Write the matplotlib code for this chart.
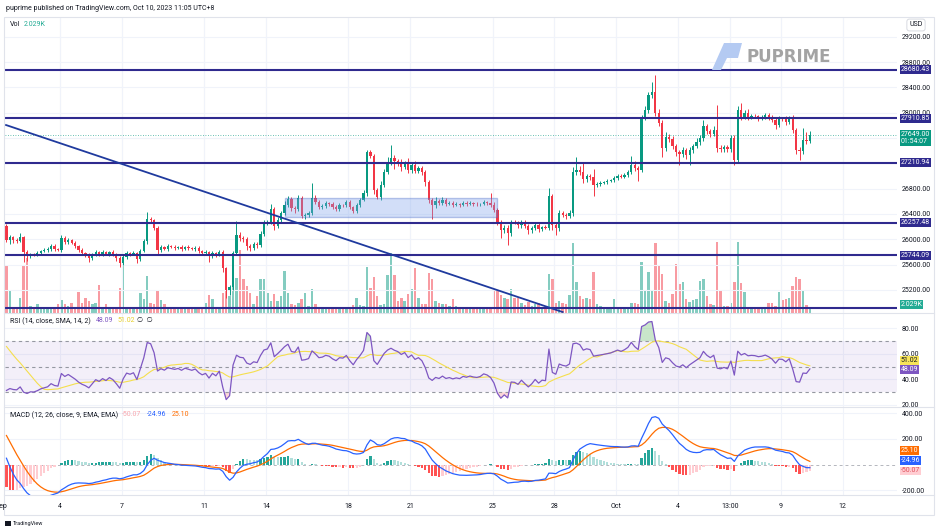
import numpy as np
import pandas as pd
import matplotlib
matplotlib.use("Agg")
import matplotlib.pyplot as plt
import matplotlib.transforms as mtransforms
from matplotlib.patches import Rectangle, Polygon
from matplotlib.lines import Line2D
from matplotlib.ticker import FixedLocator, FuncFormatter

plt.rcParams['font.family'] = ['Roboto', 'DejaVu Sans']

# BTCUSD 4h candles, first one Sep 1 2023 08:00 (UTC+8), last one Oct 10 08:00
closes = [
    25988, 26035, 25988, 25972, 26035, 25798, 25735, 25767, 25760, 25783,
    25814, 25830, 25846, 25893, 25846, 25830, 26020, 25956, 25988, 25941,
    25893, 25830, 25783, 25751, 25704, 25751, 25798, 25767, 25798, 25767,
    25798, 25767, 25704, 25625, 25719, 25783, 25767, 25783, 25688, 25814,
    25972, 26320, 26304, 26178, 25830, 25877, 25846, 25893, 25877, 25862,
    25877, 25846, 25877, 25862, 25846, 25862, 25814, 25783, 25798, 25735,
    25783, 25751, 25798, 25546, 25198, 25245, 25783, 26067, 26020, 26010,
    25893, 25862, 25925, 25909, 26083, 26241, 26272, 26478, 26209, 26304,
    26415, 26541, 26636, 26494, 26480, 26652, 26367, 26383, 26415, 26652,
    26588, 26509, 26525, 26573, 26557, 26509, 26478, 26541, 26535, 26588,
    26509, 26446, 26541, 26620, 26731, 27378, 27315, 26778, 26667, 26857,
    27062, 27205, 27284, 27236, 27205, 27141, 27205, 27094, 27173, 27078,
    27126, 27062, 26904, 26620, 26541, 26604, 26573, 26620, 26557, 26573,
    26541, 26557, 26541, 26573, 26557, 26573, 26557, 26550, 26560, 26588,
    26573, 26541, 26462, 26272, 26146, 26178, 26099, 26272, 26265, 26225,
    26272, 26209, 26146, 26178, 26225, 26162, 26193, 26185, 26683, 26225,
    26178, 26415, 26383, 26367, 26415, 27062, 27094, 27062, 26952, 26999,
    26983, 26857, 26873, 26889, 26904, 26920, 26936, 26968, 26999, 26983,
    27015, 27062, 27173, 27126, 27094, 27931, 28042, 28279, 28326, 27995,
    27837, 27442, 27615, 27584, 27473, 27378, 27347, 27410, 27331, 27410,
    27473, 27536, 27600, 27789, 27710, 27663, 27726, 27442, 27426, 27457,
    27426, 27600, 27252, 28042, 27931, 27995, 27931, 27947, 27940, 27916,
    27931, 27963, 27931, 27884, 27805, 27900, 27895, 27852, 27916, 27726,
    27410, 27394, 27568, 27560, 27649,
]
# wick length above the body top / below the body bottom (USD)
wick_up = [
    30, 40, 20, 25, 60, 20, 30, 20, 15, 25,
    20, 25, 30, 25, 40, 20, 50, 30, 25, 20,
    30, 20, 25, 20, 30, 25, 30, 20, 25, 20,
    20, 25, 20, 30, 25, 30, 20, 25, 20, 30,
    40, 110, 30, 20, 25, 30, 20, 25, 20, 25,
    20, 25, 20, 25, 20, 30, 25, 20, 30, 20,
    25, 20, 30, 25, 20, 40, 30, 220, 40, 30,
    20, 30, 25, 30, 40, 60, 30, 80, 30, 40,
    30, 60, 40, 30, 25, 40, 30, 25, 30, 237,
    40, 30, 25, 30, 20, 30, 25, 30, 20, 40,
    25, 20, 30, 25, 40, 30, 40, 30, 30, 60,
    50, 90, 205, 50, 40, 60, 30, 80, 40, 60,
    30, 25, 30, 40, 30, 60, 30, 40, 25, 30,
    25, 30, 20, 30, 25, 30, 20, 25, 20, 25,
    20, 158, 40, 30, 25, 50, 40, 30, 25, 30,
    30, 25, 30, 25, 30, 25, 20, 30, 126, 40,
    30, 40, 30, 25, 40, 80, 205, 60, 150, 40,
    30, 130, 30, 25, 20, 25, 20, 30, 25, 30,
    25, 40, 150, 60, 30, 40, 60, 40, 160, 270,
    60, 40, 80, 50, 40, 30, 40, 40, 30, 40,
    30, 60, 40, 95, 40, 30, 60, 395, 40, 40,
    30, 50, 40, 60, 104, 50, 60, 40, 30, 30,
    40, 30, 25, 30, 40, 50, 30, 60, 30, 40,
    30, 40, 190, 120, 60,
]
wick_dn = [
    30, 60, 40, 30, 20, 160, 80, 30, 25, 20,
    25, 20, 25, 30, 25, 20, 30, 30, 25, 20,
    30, 25, 30, 25, 60, 25, 20, 30, 25, 20,
    30, 25, 40, 65, 30, 25, 30, 20, 60, 30,
    20, 40, 30, 30, 60, 25, 20, 25, 20, 25,
    20, 25, 20, 25, 20, 25, 30, 30, 25, 95,
    25, 30, 20, 60, 126, 80, 40, 30, 40, 50,
    60, 40, 30, 40, 30, 30, 20, 30, 60, 30,
    30, 25, 30, 40, 60, 30, 30, 40, 30, 30,
    25, 30, 25, 30, 25, 30, 30, 25, 20, 25,
    30, 30, 25, 30, 20, 40, 30, 60, 30, 40,
    25, 30, 30, 120, 40, 60, 30, 40, 50, 30,
    30, 40, 60, 40, 215, 40, 30, 25, 30, 20,
    25, 20, 25, 20, 25, 20, 25, 20, 25, 20,
    25, 30, 30, 40, 126, 50, 190, 40, 30, 50,
    40, 30, 60, 40, 30, 50, 30, 30, 40, 80,
    110, 40, 30, 40, 30, 40, 50, 40, 60, 40,
    40, 175, 30, 25, 20, 25, 20, 25, 25, 20,
    20, 25, 30, 40, 175, 30, 40, 40, 40, 50,
    40, 140, 50, 40, 50, 60, 175, 40, 60, 160,
    40, 30, 40, 40, 50, 40, 30, 60, 40, 40,
    50, 40, 80, 40, 40, 30, 40, 30, 30, 40,
    30, 30, 40, 30, 60, 30, 30, 40, 30, 40,
    60, 140, 40, 60, 40,
]
volume_k = [
    24.0, 11.5, 3.0, 2.5, 7.5, 23.5, 27.5, 3.5, 3.0, 4.5,
    2.5, 2.5, 2.5, 2.5, 3.0, 4.5, 6.5, 4.5, 3.5, 5.0,
    3.0, 10.5, 5.0, 7.5, 6.0, 4.5, 5.0, 14.0, 3.0, 4.5,
    2.5, 2.5, 2.5, 12.5, 26.0, 3.0, 2.5, 2.5, 2.5, 10.0,
    7.0, 18.5, 5.0, 4.5, 11.0, 6.5, 4.5, 3.0, 2.5, 2.5,
    2.0, 2.5, 2.0, 2.5, 3.0, 2.5, 3.0, 2.5, 5.0, 9.0,
    7.0, 2.5, 2.5, 10.0, 16.5, 8.5, 14.5, 17.5, 31.5, 17.0,
    13.5, 10.0, 4.5, 8.5, 17.0, 17.0, 10.0, 6.0, 9.5, 6.0,
    8.5, 21.0, 10.0, 4.5, 4.0, 5.0, 7.0, 10.0, 3.5, 12.0,
    4.5, 2.5, 2.5, 2.5, 2.5, 2.5, 2.0, 2.0, 2.0, 2.0,
    2.5, 4.0, 7.5, 4.0, 3.5, 23.0, 12.5, 18.0, 8.5, 4.0,
    4.5, 19.0, 30.0, 19.0, 6.0, 7.5, 6.0, 9.5, 12.0, 22.5,
    7.5, 4.5, 4.5, 20.0, 17.0, 6.0, 5.0, 4.5, 4.5, 3.5,
    7.0, 3.5, 2.5, 2.0, 2.0, 2.5, 2.0, 2.0, 2.0, 2.5,
    2.0, 2.5, 11.0, 11.0, 9.0, 7.5, 7.0, 12.0, 7.5, 7.5,
    5.0, 4.0, 5.5, 3.5, 4.5, 5.0, 2.5, 2.5, 19.5, 17.0,
    5.0, 6.0, 5.0, 4.5, 9.0, 35.0, 15.5, 8.5, 7.0, 7.5,
    7.0, 20.5, 4.5, 3.5, 2.0, 2.0, 2.5, 7.0, 3.0, 2.5,
    2.5, 2.5, 5.0, 5.0, 4.5, 25.5, 11.5, 20.5, 11.0, 35.0,
    24.0, 19.5, 6.0, 5.0, 9.5, 24.5, 14.5, 15.5, 7.0, 5.5,
    6.5, 7.0, 16.0, 17.0, 8.5, 4.5, 4.0, 35.5, 11.0, 3.5,
    3.5, 5.0, 15.5, 35.5, 15.0, 10.5, 2.0, 2.5, 2.0, 2.5,
    2.0, 2.0, 5.0, 5.0, 3.5, 10.5, 6.5, 7.0, 7.5, 13.5,
    18.0, 17.0, 11.0, 4.0, 2.029,
]
# 4h closes before the visible window (Aug 24 08:00 .. Sep 1 04:00),
# only used to warm up RSI / MACD so they enter at the levels seen at the left edge
offscreen_closes = [
    26350, 26250, 26150, 26050, 26100, 26080,
    26050, 26000, 26070, 26060, 26040, 26020,
    26010, 26000, 26020, 26030, 26010, 26020,
    26050, 26080, 26060, 26040, 26000, 26020,
    25980, 26050, 26100, 26120, 26080, 26100,
    26050, 26100, 26150, 27600, 27700, 27500,
    27450, 27400, 27350, 27400, 27450, 27400,
    27450, 27500, 27400, 27250, 26400, 26209,
]

levels = [28680.43, 27910.85, 27210.94, 26257.48, 25744.09]
bottom_level = 24913
last_price = 27649.00
range_box = (13.92, 24.21, 26351, 26652)      # day from, day to, low, high
trend_pts = ((0.38, 27805), (27.4, 24850))     # (day, price) anchors

price_ticks = [25200, 25600, 26000, 26400, 26800, 27200, 27600, 28000, 28400, 28800, 29200]
price_hidden = [27200, 27600]                  # covered by the level / last-price tags
day_ticks = [3, 6, 10, 13, 17, 20, 24, 27, 30, 33, 35.54, 38, 41]
day_labels = ['4', '7', '11', '14', '18', '21', '25', '28', 'Oct', '4', '13:00', '9', '12']

UP, DN = '#089981', '#f23645'
LINE = '#2f2a8e'
GRID = '#f0f3fa'
TXT = '#131722'

W, H = 941, 528
def fx(x): return x / W
def fy(y): return 1 - y / H

n = len(closes)
t = 0.4 + np.arange(n) / 6
c = np.array(closes, float)
o = np.r_[offscreen_closes[-1], c[:-1]]
top = np.maximum(o, c)
bot = np.minimum(o, c)
hi = top + np.array(wick_up)
lo = bot - np.array(wick_dn)
up = c >= o
cols = np.where(up, UP, DN)

# indicators, computed the way the chart does
s = pd.Series(np.r_[offscreen_closes, closes], dtype=float)
d = s.diff().fillna(0)
ag = d.clip(lower=0).ewm(alpha=1 / 14, adjust=False).mean()
al = (-d.clip(upper=0)).ewm(alpha=1 / 14, adjust=False).mean()
rsi_all = 100 - 100 / (1 + ag / al)
rsi_ma_all = rsi_all.rolling(14).mean()
macd_all = s.ewm(span=12, adjust=False).mean() - s.ewm(span=26, adjust=False).mean()
sig_all = macd_all.ewm(span=9, adjust=False).mean()
hist_all = macd_all - sig_all
k = len(offscreen_closes)
rsi = rsi_all.values[k:]
rsi_ma = rsi_ma_all.values[k:]
macd = macd_all.values[k:]
sig = sig_all.values[k:]
hist = hist_all.values[k:]
hist_prev = hist_all.values[k - 1:-1]
hcols = np.where(hist >= 0, np.where(hist > hist_prev, '#26a69a', '#b2dfdb'),
                 np.where(hist > hist_prev, '#ffcdd2', '#ff5252'))

fig = plt.figure(figsize=(W / 100, H / 100), dpi=100)
L, R = 5, 897
ax_v = fig.add_axes([fx(L), fy(313), (R - L) / W, (313 - 18) / H])
ax_p = fig.add_axes([fx(L), fy(313), (R - L) / W, (313 - 18) / H], sharex=ax_v)
ax_r = fig.add_axes([fx(L), fy(407), (R - L) / W, (407 - 313) / H], sharex=ax_v)
ax_m = fig.add_axes([fx(L), fy(495), (R - L) / W, (495 - 407) / H], sharex=ax_v)
ax_p.patch.set_visible(False)

xlim = (0.33, 43.63)
for ax in (ax_v, ax_p, ax_r, ax_m):
    ax.set_xlim(*xlim)
    for sp in ax.spines.values():
        sp.set_visible(False)
    for xt in day_ticks:
        ax.axvline(xt, color=GRID, lw=0.8, zorder=0)
    ax.tick_params(axis='x', length=0, labelbottom=False)
    ax.yaxis.tick_right()
    ax.tick_params(axis='y', length=0, pad=3.6, labelsize=5, labelcolor=TXT)
    ax.yaxis.set_major_formatter(FuncFormatter(lambda v, p: f'{v:.2f}'))

# volume
ax_v.set_ylim(0, 147.5)
ax_v.bar(t, volume_k, width=0.12, color=np.where(up, '#84ccc0', '#f89ba2'), zorder=1)
ax_v.set_yticks([])

# price
ax_p.set_ylim(24835, 29496)
ax_p.yaxis.set_major_locator(FixedLocator([p for p in price_ticks if p not in price_hidden]))
for pt in price_ticks:
    ax_p.axhline(pt, color=GRID, lw=0.8, zorder=0)
ax_p.vlines(t, lo, hi, color=cols, lw=0.7, zorder=3)
ax_p.bar(t, np.maximum(top - bot, 8), bottom=bot, width=0.11, color=cols, zorder=3)
ax_p.axhline(last_price, color=UP, lw=0.6, ls=(0, (1, 2)), alpha=0.8, zorder=2)
for lv in levels + [bottom_level]:
    ax_p.axhline(lv, color=LINE, lw=1.5, zorder=5)
ax_p.add_patch(Rectangle((range_box[0], range_box[2]), range_box[1] - range_box[0],
                         range_box[3] - range_box[2], fc='#7fa3ec', alpha=0.35,
                         ec='#3f63c4', lw=1.0, zorder=5))
(x0, y0), (x1, y1) = trend_pts
ax_p.plot([x0, x1], [y0, y1], color='#1f3a9e', lw=1.3, zorder=5)

def side_label(ax, yv, text, fc, tc='white', fs=5):
    tr = mtransforms.blended_transform_factory(ax.transAxes, ax.transData)
    ax.text(1.0 + 3.5 / (R - L), yv, text, transform=tr, ha='left', va='center',
            fontsize=fs, color=tc, clip_on=False, zorder=10, linespacing=1.05,
            bbox=dict(boxstyle='square,pad=0.14', fc=fc, ec='none'))

for lv in levels:
    side_label(ax_p, lv, f'{lv:.2f}', LINE)
side_label(ax_p, last_price - 50, '27649.00\n01:54:07', UP)
side_label(ax_p, bottom_level + 60, '2.029K', '#22ab94')

# RSI
ax_r.set_ylim(18.4, 92.1)
ax_r.yaxis.set_major_locator(FixedLocator([20, 40, 60, 80]))
for v in (20, 40, 60, 80):
    ax_r.axhline(v, color=GRID, lw=0.8, zorder=0)
ax_r.axhspan(30, 70, color='#7e57c2', alpha=0.09, lw=0, zorder=1)
for v in (70, 50, 30):
    ax_r.axhline(v, color='#9598a1', lw=0.8, ls=(0, (3, 3)), zorder=2)
ax_r.fill_between(t, rsi, 70, where=rsi > 70, interpolate=True, color='#4caf50', alpha=0.3, lw=0)
ax_r.fill_between(t, rsi, 30, where=rsi < 30, interpolate=True, color='#f23645', alpha=0.2, lw=0)
ax_r.plot(t, rsi_ma, color='#f5df4d', lw=0.8, zorder=3)
ax_r.plot(t, rsi, color='#7e57c2', lw=0.9, zorder=4)
side_label(ax_r, 55.0, '51.02', '#f7e45a', tc=TXT)
side_label(ax_r, 47.6, '48.09', '#7e57c2')

# MACD
ax_m.set_ylim(-237, 448)
ax_m.yaxis.set_major_locator(FixedLocator([-200, 200, 400]))
for v in (-200, 200, 400):
    ax_m.axhline(v, color=GRID, lw=0.8, zorder=0)
ax_m.axhline(0, color='#9598a1', lw=0.7, ls=(0, (3, 3)), alpha=0.7, zorder=1)
ax_m.bar(t, hist, width=0.11, color=hcols, zorder=2)
ax_m.plot(t, sig, color='#ff6d00', lw=0.9, zorder=3)
ax_m.plot(t, macd, color='#2962ff', lw=0.9, zorder=4)
side_label(ax_m, 113, '25.10', '#ff6d00')
side_label(ax_m, 32, '-24.96', '#2962ff')
side_label(ax_m, -50, '-50.07', '#ffcdd2', tc='#e0505c')

ax_m.set_xticks(day_ticks)
ax_m.set_xticklabels(day_labels)
ax_m.tick_params(axis='x', labelbottom=True, labelsize=5, labelcolor=TXT, pad=6)
fig.text(fx(1.5), fy(507), 'Sep', fontsize=5, color=TXT, ha='center', va='center')

# frame and pane separators
fig.add_artist(Rectangle((fx(4), fy(515)), (934 - 4) / W, (515 - 17) / H, fill=False,
                         ec='#e0e3eb', lw=0.8, transform=fig.transFigure))
for yy in (313, 407, 495):
    fig.add_artist(Line2D([fx(4), fx(934)], [fy(yy), fy(yy)], color='#e0e3eb', lw=0.8))

# header / legends
fig.text(fx(6), fy(8), 'puprime published on TradingView.com, Oct 10, 2023 11:05 UTC+8',
         fontsize=5, color=TXT, va='center')
fig.text(fx(10), fy(25), 'Vol', fontsize=5, color=TXT, va='center')
fig.text(fx(24), fy(25), '2.029K', fontsize=5, color='#22ab94', va='center')
fig.text(fx(10), fy(321), 'RSI (14, close, SMA, 14, 2)', fontsize=5, color=TXT, va='center')
fig.text(fx(96), fy(321), '48.09', fontsize=5, color='#7e57c2', va='center')
fig.text(fx(117), fy(321), '51.02', fontsize=5, color='#e6cf2a', va='center')
fig.text(fx(137), fy(321), '\u2205  \u2205', fontsize=5, color=TXT, va='center')
fig.text(fx(10), fy(415), 'MACD (12, 26, close, 9, EMA, EMA)', fontsize=5, color=TXT, va='center')
fig.text(fx(122), fy(415), '-50.07', fontsize=5, color='#f7a7ae', va='center')
fig.text(fx(147), fy(415), '-24.96', fontsize=5, color='#2962ff', va='center')
fig.text(fx(172), fy(415), '25.10', fontsize=5, color='#ff6d00', va='center')
fig.text(fx(916), fy(25), 'USD', fontsize=5, color=TXT, ha='center', va='center',
         bbox=dict(boxstyle='round,pad=0.35', fc='white', ec='#d1d4dc', lw=0.6))

# watermark
fig.add_artist(Polygon([(fx(724), fy(43)), (fx(742), fy(43)), (fx(738), fy(58)), (fx(727), fy(58)),
                        (fx(721), fy(70)), (fx(712), fy(70))], closed=True, fc='#b4caf2',
                       ec='none', transform=fig.transFigure))
fig.text(fx(746), fy(57), 'PUPRIME', fontsize=12, fontweight='bold', color='#a3a3a3',
         va='center', family='DejaVu Sans')

fig.add_artist(Rectangle((fx(5), fy(526)), 6 / W, 5 / H, fc=TXT, ec='none', transform=fig.transFigure))
fig.text(fx(13), fy(523), 'TradingView', fontsize=4, color=TXT, va='center')

fig.savefig('out.png', dpi=100)
